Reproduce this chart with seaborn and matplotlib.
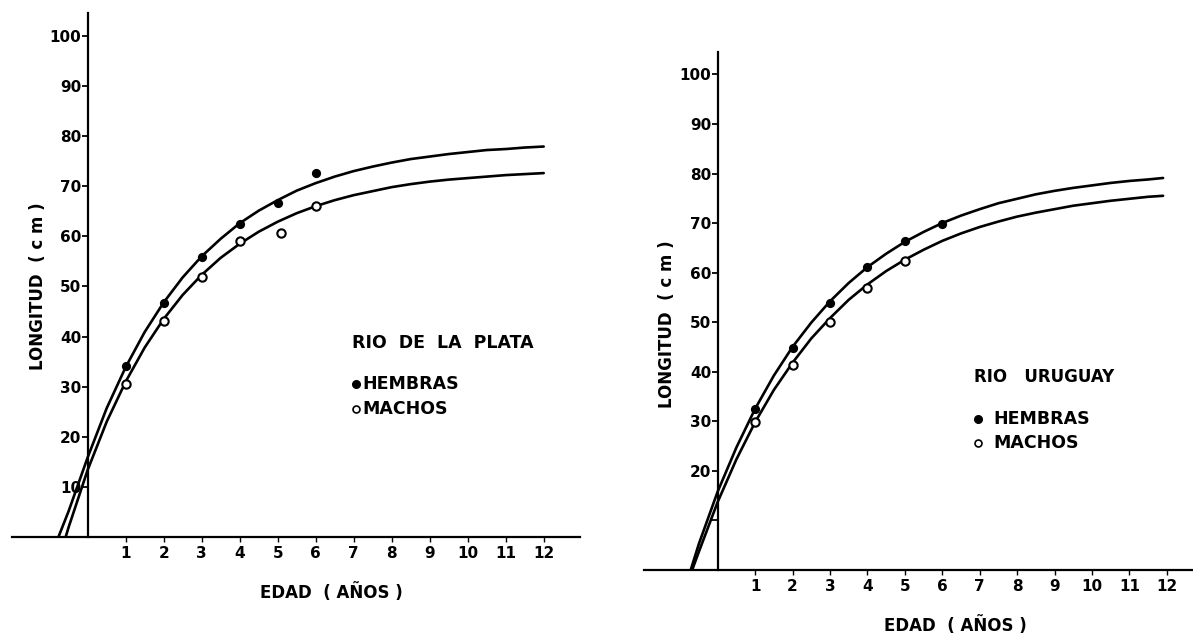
import matplotlib
matplotlib.use("Agg")
import matplotlib.pyplot as plt
import pandas as pd
import seaborn as sns

# ---------------- data ----------------
# Rio de la Plata - observed mean lengths (cm) by age (years)
ages_plata_h = [1, 2, 3, 4, 5, 6]
len_plata_h = [34.2, 46.7, 55.8, 62.4, 66.6, 72.7]
ages_plata_m = [1, 2, 3, 4, 5.1, 6]
len_plata_m = [30.5, 43.1, 51.9, 59.0, 60.7, 66.1]

# Rio de la Plata - fitted growth curves
curve_plata_h_x = [-0.77, -0.5, 0, 0.5, 1, 1.5, 2, 2.5, 3, 3.5, 4, 4.5, 5, 5.5, 6,
                   6.5, 7, 7.5, 8, 8.5, 9, 9.5, 10, 10.5, 11, 11.5, 12]
curve_plata_h_y = [0, 5.2, 15.9, 25.7, 33.9, 40.9, 46.8, 51.8, 56.0, 59.5, 62.6, 65.1, 67.2, 69.1, 70.6,
                   71.9, 73.0, 73.9, 74.7, 75.4, 75.9, 76.4, 76.8, 77.2, 77.4, 77.7, 77.9]
curve_plata_m_x = [-0.58, -0.5, 0, 0.5, 1, 1.5, 2, 2.5, 3, 3.5, 4, 4.5, 5, 5.5, 6,
                   6.5, 7, 7.5, 8, 8.5, 9, 9.5, 10, 10.5, 11, 11.5, 12]
curve_plata_m_y = [0, 2.0, 13.4, 23.0, 31.0, 37.8, 43.5, 48.3, 52.3, 55.7, 58.5, 60.9, 62.9, 64.6, 66.0,
                   67.2, 68.2, 69.0, 69.8, 70.4, 70.9, 71.3, 71.6, 71.9, 72.2, 72.4, 72.6]

# Rio Uruguay - observed mean lengths
ages_urug_h = [1, 2, 3, 4, 5, 6]
len_urug_h = [32.4, 44.7, 53.9, 61.2, 66.3, 69.8]
ages_urug_m = [1, 2, 3, 4, 5]
len_urug_m = [29.8, 41.4, 50.0, 56.9, 62.4]

# Rio Uruguay - fitted growth curves
curve_urug_h_x = [-0.72, -0.5, 0, 0.5, 1, 1.5, 2, 2.5, 3, 3.5, 4, 4.5, 5, 5.5, 6,
                  6.5, 7, 7.5, 8, 8.5, 9, 9.5, 10, 10.5, 11, 11.5, 11.9]
curve_urug_h_y = [0, 5.3, 15.8, 24.7, 32.5, 39.2, 45.0, 49.9, 54.2, 57.9, 61.1, 63.8, 66.2, 68.2, 70.0,
                  71.5, 72.8, 74.0, 74.9, 75.8, 76.5, 77.1, 77.6, 78.1, 78.5, 78.8, 79.1]
curve_urug_m_x = [-0.68, -0.5, 0, 0.5, 1, 1.5, 2, 2.5, 3, 3.5, 4, 4.5, 5, 5.5, 6,
                  6.5, 7, 7.5, 8, 8.5, 9, 9.5, 10, 10.5, 11, 11.5, 11.9]
curve_urug_m_y = [0, 3.7, 13.7, 22.3, 29.8, 36.3, 41.8, 46.7, 50.8, 54.5, 57.6, 60.3, 62.6, 64.6, 66.4,
                  67.9, 69.2, 70.3, 71.3, 72.1, 72.8, 73.5, 74.0, 74.5, 74.9, 75.3, 75.5]

x_ticks = list(range(1, 13))
y_ticks = list(range(10, 101, 10))
y_labels_plata = [str(v) for v in y_ticks]
y_labels_urug = [""] + [str(v) for v in y_ticks[1:]]

xlabel_text = "EDAD  ( AÑOS )"
ylabel_text = "LONGITUD  ( c m )"
legend_h = "HEMBRAS"
legend_m = "MACHOS"

# ---------------- styling ----------------
sns.set_theme(style="white")
plt.rcParams["font.family"] = ["DejaVu Sans"]
plt.rcParams["font.weight"] = "bold"
plt.rcParams["axes.labelweight"] = "bold"
plt.rcParams["text.color"] = "black"
plt.rcParams["axes.labelcolor"] = "black"
plt.rcParams["xtick.color"] = "black"
plt.rcParams["ytick.color"] = "black"

W, H = 1193, 634
fig = plt.figure(figsize=(W / 100, H / 100), dpi=100)
fig.patch.set_facecolor("white")

axL = fig.add_axes([11.7 / W, (H - 537) / H, (579.8 - 11.7) / W, (537 - 12.7) / H])
axR = fig.add_axes([644 / W, (H - 569.7) / H, (W - 644) / W, (569.7 - 51.7) / H])


def draw_panel(ax, cx_h, cy_h, cx_m, cy_m, ax_h, ly_h, ax_m, ly_m, xlim, ylabels,
               title, title_xy, dot_x, text_x, rows_y, xlab_xy, ylab_xy, title_size):
    ax.set_facecolor("white")
    sns.lineplot(x=cx_h, y=cy_h, ax=ax, color="black", linewidth=1.9, estimator=None, sort=False, zorder=2)
    sns.lineplot(x=cx_m, y=cy_m, ax=ax, color="black", linewidth=1.9, estimator=None, sort=False, zorder=2)
    dh = pd.DataFrame({"edad": ax_h, "long": ly_h})
    dm = pd.DataFrame({"edad": ax_m, "long": ly_m})
    sns.scatterplot(data=dh, x="edad", y="long", ax=ax, color="black", s=44, linewidth=0, zorder=4)
    sns.scatterplot(data=dm, x="edad", y="long", ax=ax, color="white", edgecolor="black",
                    s=36, linewidth=1.5, zorder=4)

    ax.set_xlim(*xlim)
    ax.set_ylim(0, 104.6)
    for s in ("top", "right"):
        ax.spines[s].set_visible(False)
    ax.spines["left"].set_position(("data", 0))
    ax.spines["left"].set_linewidth(1.6)
    ax.spines["bottom"].set_linewidth(1.6)
    ax.spines["left"].set_color("black")
    ax.spines["bottom"].set_color("black")
    ax.grid(False)

    ax.set_xticks(x_ticks)
    ax.set_xticklabels([str(v) for v in x_ticks], fontsize=11, fontweight="bold")
    ax.set_yticks(y_ticks)
    ax.set_yticklabels(ylabels, fontsize=11, fontweight="bold")
    ax.tick_params(axis="y", direction="out", length=4, width=1.3, pad=0.5, colors="black",
                   left=True)
    ax.tick_params(axis="x", direction="out", length=3.5, width=1.0, pad=3, colors="black",
                   bottom=True)

    ax.set_xlabel(xlabel_text, fontsize=12, fontweight="bold", color="black")
    ax.set_ylabel(ylabel_text, fontsize=12, fontweight="bold", color="black")
    ax.xaxis.label.set_va("center")
    ax.yaxis.label.set_va("center")
    ax.xaxis.set_label_coords(*xlab_xy)
    ax.yaxis.set_label_coords(*ylab_xy)

    ax.text(title_xy[0], title_xy[1], title, fontsize=title_size, fontweight="bold",
            ha="left", va="center", color="black")
    ax.plot([dot_x], [rows_y[0]], marker="o", color="black", markersize=5.5, linestyle="none")
    ax.plot([dot_x], [rows_y[1]], marker="o", markerfacecolor="white", markeredgecolor="black",
            markeredgewidth=1.2, markersize=5, linestyle="none")
    ax.text(text_x, rows_y[0], legend_h, fontsize=12.5, fontweight="bold", ha="left", va="center",
            color="black")
    ax.text(text_x, rows_y[1], legend_m, fontsize=12.5, fontweight="bold", ha="left", va="center",
            color="black")


draw_panel(axL, curve_plata_h_x, curve_plata_h_y, curve_plata_m_x, curve_plata_m_y,
           ages_plata_h, len_plata_h, ages_plata_m, len_plata_m,
           xlim=(-2.0, 12.95), ylabels=y_labels_plata,
           title="RIO  DE  LA  PLATA", title_xy=(6.955, 38.7),
           dot_x=7.06, text_x=7.22, rows_y=(30.5, 25.5),
           xlab_xy=(0.562, -0.105), ylab_xy=(0.0463, 0.4787), title_size=12.5)

draw_panel(axR, curve_urug_h_x, curve_urug_h_y, curve_urug_m_x, curve_urug_m_y,
           ages_urug_h, len_urug_h, ages_urug_m, len_urug_m,
           xlim=(-1.97, 12.7), ylabels=y_labels_urug,
           title="RIO   URUGUAY", title_xy=(6.86, 38.9),
           dot_x=6.95, text_x=7.36, rows_y=(30.4, 25.5),
           xlab_xy=(0.5665, -0.1068), ylab_xy=(0.0419, 0.4734), title_size=12)

fig.savefig("out.png", dpi=100, facecolor="white")
